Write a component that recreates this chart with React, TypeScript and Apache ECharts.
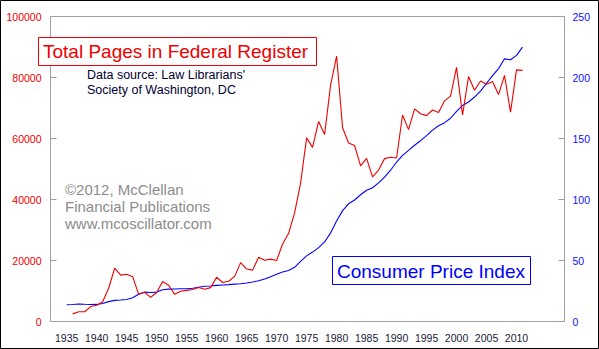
import React, { useEffect, useRef } from "react";
import * as echarts from "echarts";

// Federal Register total pages, 1936-2011
const pageYears: number[] = [
  1936, 1937, 1938, 1939, 1940, 1941, 1942, 1943, 1944, 1945,
  1946, 1947, 1948, 1949, 1950, 1951, 1952, 1953, 1954, 1955,
  1956, 1957, 1958, 1959, 1960, 1961, 1962, 1963, 1964, 1965,
  1966, 1967, 1968, 1969, 1970, 1971, 1972, 1973, 1974, 1975,
  1976, 1977, 1978, 1979, 1980, 1981, 1982, 1983, 1984, 1985,
  1986, 1987, 1988, 1989, 1990, 1991, 1992, 1993, 1994, 1995,
  1996, 1997, 1998, 1999, 2000, 2001, 2002, 2003, 2004, 2005,
  2006, 2007, 2008, 2009, 2010, 2011,
];
const pages: number[] = [
  2500, 3200, 3200, 4900, 5300, 6500, 10900, 17500, 15200, 15500,
  14700, 8900, 9600, 7900, 9500, 13100, 11900, 8900, 9900, 10200,
  10500, 11150, 10600, 11100, 14500, 12800, 13200, 14800, 19300, 17200,
  16850, 21100, 20100, 20450, 20000, 25400, 28900, 35600, 45400, 60200,
  57100, 65600, 61300, 77500, 87000, 63500, 58500, 57700, 51000, 53500,
  47400, 49650, 53400, 53850, 53600, 67700, 62900, 69700, 68100, 67500,
  69350, 68500, 72350, 73900, 83300, 67700, 80300, 75800, 78850, 77800,
  78700, 74400, 80700, 68600, 82500, 82350,
];

// Consumer Price Index (annual), 1935-2011
const cpiYears: number[] = [
  1935, 1936, 1937, 1938, 1939, 1940, 1941, 1942, 1943, 1944,
  1945, 1946, 1947, 1948, 1949, 1950, 1951, 1952, 1953, 1954,
  1955, 1956, 1957, 1958, 1959, 1960, 1961, 1962, 1963, 1964,
  1965, 1966, 1967, 1968, 1969, 1970, 1971, 1972, 1973, 1974,
  1975, 1976, 1977, 1978, 1979, 1980, 1981, 1982, 1983, 1984,
  1985, 1986, 1987, 1988, 1989, 1990, 1991, 1992, 1993, 1994,
  1995, 1996, 1997, 1998, 1999, 2000, 2001, 2002, 2003, 2004,
  2005, 2006, 2007, 2008, 2009, 2010, 2011,
];
const cpi: number[] = [
  13.7, 13.9, 14.4, 14.1, 13.9, 14.0, 14.7, 16.3, 17.3, 17.6,
  18.0, 19.5, 22.3, 24.1, 23.8, 24.1, 26.0, 26.5, 26.7, 26.9,
  26.8, 27.2, 28.1, 28.9, 29.1, 29.6, 29.9, 30.2, 30.6, 31.0,
  31.5, 32.4, 33.4, 34.8, 36.7, 38.8, 40.5, 41.8, 44.4, 49.3,
  53.8, 56.9, 60.6, 65.2, 72.6, 82.4, 90.9, 96.5, 99.6, 103.9,
  107.6, 109.6, 113.6, 118.3, 124.0, 130.7, 136.2, 140.3, 144.5, 148.2,
  152.4, 156.9, 160.5, 163.0, 166.6, 172.2, 177.1, 179.9, 184.0, 188.9,
  195.3, 201.6, 207.3, 215.3, 214.5, 218.1, 224.9,
];

const yearTicks: number[] = [
  1935, 1940, 1945, 1950, 1955, 1960, 1965, 1970, 1975, 1980,
  1985, 1990, 1995, 2000, 2005, 2010,
];

const FONT = "'Liberation Sans', Arial, sans-serif";

export default function App() {
  const ref = useRef<HTMLDivElement>(null);

  useEffect(() => {
    if (!ref.current) return;
    const chart = echarts.init(ref.current, undefined, { renderer: "svg" });

    const pageData = pageYears.map((y, i) => [y, pages[i]]);
    const cpiData = cpiYears.map((y, i) => [y, cpi[i]]);

    const textEl = (x: number, y: number, text: string, fill: string, font: string) => ({
      type: "text",
      x,
      y,
      style: { text, fill, font, align: "left", verticalAlign: "middle" },
      z: 11,
    });

    chart.setOption({
      animation: false,
      backgroundColor: "#ffffff",
      grid: {
        show: true,
        left: 50.5,
        right: 34.5,
        top: 16.5,
        bottom: 27.5,
        borderColor: "#a0a0a0",
        borderWidth: 1,
        backgroundColor: "transparent",
      },
      xAxis: {
        type: "value",
        min: 1932.3,
        max: 2018,
        axisLine: { show: false },
        axisTick: { show: false },
        splitLine: { show: false },
        axisLabel: {
          customValues: yearTicks,
          color: "#1a1a3a",
          fontSize: 10.5,
          fontFamily: FONT,
          margin: 11,
          formatter: (v: number) => String(v),
        },
      },
      yAxis: [
        {
          type: "value",
          position: "left",
          min: 0,
          max: 100000,
          interval: 20000,
          axisLine: { show: false },
          axisTick: {
            show: true,
            inside: true,
            length: 6,
            lineStyle: { color: "#a0a0a0" },
          },
          splitLine: { show: false },
          axisLabel: {
            color: "#f00000",
            fontSize: 10.5,
            fontFamily: FONT,
            margin: 9,
            formatter: (v: number) => String(v),
          },
        },
        {
          type: "value",
          position: "right",
          min: 0,
          max: 250,
          interval: 50,
          axisLine: { show: false },
          axisTick: {
            show: true,
            inside: true,
            length: 6,
            lineStyle: { color: "#a0a0a0" },
          },
          splitLine: { show: false },
          axisLabel: {
            color: "#1010ff",
            fontSize: 10.5,
            fontFamily: FONT,
            margin: 8,
            formatter: (v: number) => String(v),
          },
        },
      ],
      series: [
        {
          name: "Consumer Price Index",
          type: "line",
          yAxisIndex: 1,
          data: cpiData,
          showSymbol: false,
          lineStyle: { color: "#0000ff", width: 1.1 },
          itemStyle: { color: "#0000ff" },
          z: 2,
        },
        {
          name: "Total Pages in Federal Register",
          type: "line",
          yAxisIndex: 0,
          data: pageData,
          showSymbol: false,
          lineStyle: { color: "#ee0000", width: 1.1 },
          itemStyle: { color: "#ee0000" },
          z: 3,
        },
      ],
      graphic: [
        {
          type: "rect",
          shape: { x: 0.5, y: 0.5, width: 598, height: 348 },
          style: { fill: "none", stroke: "#000000", lineWidth: 1 },
          silent: true,
          z: 100,
        },
        {
          type: "rect",
          shape: { x: 38.5, y: 37.5, width: 278, height: 28 },
          style: { fill: "#ffffff", stroke: "#ee0000", lineWidth: 1 },
          z: 10,
        },
        textEl(43, 51, "Total Pages in Federal Register", "#ee0000", `19px ${FONT}`),
        textEl(87, 75, "Data source: Law Librarians'", "#000033", `12.5px ${FONT}`),
        textEl(87, 90, "Society of Washington, DC", "#000033", `12.5px ${FONT}`),
        textEl(65, 189, "\u00a92012, McClellan", "#8c8c8c", `15px ${FONT}`),
        textEl(65, 206, "Financial Publications", "#8c8c8c", `15px ${FONT}`),
        textEl(65, 223, "www.mcoscillator.com", "#8c8c8c", `15px ${FONT}`),
        {
          type: "rect",
          shape: { x: 332.5, y: 256.5, width: 198, height: 28 },
          style: { fill: "#ffffff", stroke: "#0000ff", lineWidth: 1 },
          z: 10,
        },
        textEl(337, 271, "Consumer Price Index", "#0000ff", `19px ${FONT}`),
      ],
    });

    return () => {
      chart.dispose();
    };
  }, []);

  return (
    <div
      ref={ref}
      style={{
        position: "fixed",
        left: 0,
        top: 0,
        width: 599,
        height: 349,
        background: "#ffffff",
      }}
    />
  );
}
